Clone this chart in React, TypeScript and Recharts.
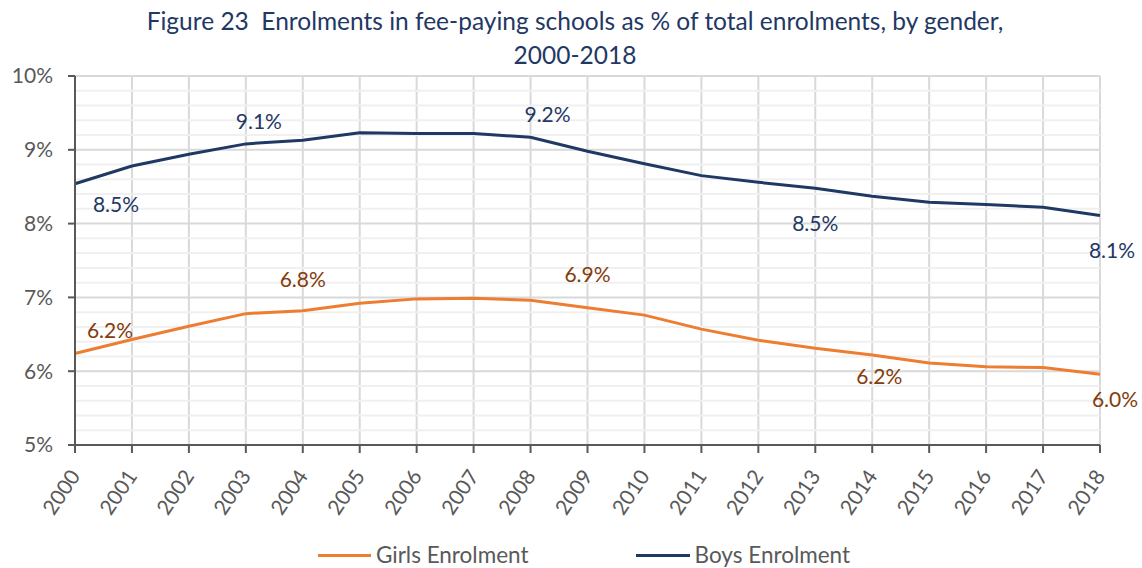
import { LineChart, Line, XAxis, YAxis, CartesianGrid, ReferenceLine, Legend, LabelList } from 'recharts';

const years = ['2000', '2001', '2002', '2003', '2004', '2005', '2006', '2007', '2008', '2009', '2010', '2011', '2012', '2013', '2014', '2015', '2016', '2017', '2018'];
const girlsEnrolment = [6.24, 6.43, 6.61, 6.78, 6.82, 6.92, 6.98, 6.99, 6.96, 6.86, 6.76, 6.57, 6.42, 6.31, 6.22, 6.11, 6.06, 6.05, 5.96];
const boysEnrolment = [8.54, 8.78, 8.94, 9.08, 9.13, 9.23, 9.22, 9.22, 9.17, 8.98, 8.81, 8.65, 8.56, 8.48, 8.37, 8.29, 8.26, 8.22, 8.11];
const yTicks = [5, 6, 7, 8, 9, 10];
const minorTicks = [5.2, 5.4, 5.6, 5.8, 6.2, 6.4, 6.6, 6.8, 7.2, 7.4, 7.6, 7.8, 8.2, 8.4, 8.6, 8.8, 9.2, 9.4, 9.6, 9.8];

// where Excel put the data labels, relative to the point (px)
const girlsLabelPos: Record<string, [number, number]> = {
  '2000': [35, -23],
  '2004': [0, -31],
  '2009': [0, -33],
  '2014': [7, 22],
  '2018': [15, 25],
};
const boysLabelPos: Record<string, [number, number]> = {
  '2000': [41, 21],
  '2003': [13, -22],
  '2008': [17, -23],
  '2013': [0, 35],
  '2018': [12, 35],
};

const data = years.map((year, i) => ({ year, girls: girlsEnrolment[i], boys: boysEnrolment[i] }));

const FONT = 'Lato, "Open Sans", sans-serif';
const NAVY = '#1F3864';
const ORANGE = '#ED7D31';
const GREY = '#595959';

const makeLabel = (pos: Record<string, [number, number]>, color: string) => (props: any) => {
  const { x, y, value, index } = props;
  const off = pos[years[index]];
  if (!off) return null;
  return (
    <text x={x + off[0]} y={y + off[1]} dy="0.35em" textAnchor="middle" fill={color} fontSize={21} fontFamily={FONT}>
      {`${Number(value).toFixed(1)}%`}
    </text>
  );
};

const YearTick = ({ x, y, payload }: any) => (
  <g transform={`translate(${x},${y + 17})`}>
    <text x={0} y={0} dy="0.35em" textAnchor="end" transform="rotate(-56)" fill={GREY} fontSize={21} fontFamily={FONT}>
      {payload.value}
    </text>
  </g>
);

const LegendBox = () => (
  <div style={{ height: 24, lineHeight: '24px', display: 'flex', justifyContent: 'center', alignItems: 'center', gap: 107, fontFamily: FONT, fontSize: 22.5, color: GREY, paddingLeft: 53 }}>
    <span style={{ display: 'flex', alignItems: 'center' }}>
      <span style={{ width: 53, height: 3, background: ORANGE, marginRight: 5 }} />
      Girls Enrolment
    </span>
    <span style={{ display: 'flex', alignItems: 'center' }}>
      <span style={{ width: 54, height: 3, background: NAVY, marginRight: 5 }} />
      Boys Enrolment
    </span>
  </div>
);

export default function App() {
  return (
    <div style={{ position: 'absolute', left: 0, top: 0, width: 1142, height: 568, background: '#fff' }}>
      <div style={{ position: 'absolute', top: 4, left: 4, width: 1142, textAlign: 'center', fontFamily: FONT, fontSize: 24.5, lineHeight: '34px', color: NAVY }}>
        Figure 23&nbsp;&nbsp;Enrolments in fee-paying schools as % of total enrolments, by gender,
        <br />
        2000-2018
      </div>
      <LineChart width={1142} height={568} data={data} margin={{ top: 76, right: 42, left: 15, bottom: 1 }}>
        {minorTicks.map((v) => (
          <ReferenceLine key={v} y={v} stroke="#F0F0F0" strokeWidth={2} />
        ))}
        <CartesianGrid stroke="#D9D9D9" strokeWidth={2} />
        <XAxis
          dataKey="year"
          interval={0}
          height={98}
          tickSize={8}
          tickMargin={2}
          stroke={GREY}
          axisLine={{ stroke: GREY, strokeWidth: 2 }}
          tickLine={{ stroke: GREY, strokeWidth: 2 }}
          tick={<YearTick />}
        />
        <YAxis
          domain={[5, 10]}
          ticks={yTicks}
          width={60}
          tickSize={7}
          tickMargin={15}
          tickFormatter={(v) => `${v}%`}
          axisLine={{ stroke: GREY, strokeWidth: 2 }}
          tickLine={{ stroke: GREY, strokeWidth: 2 }}
          tick={{ fill: GREY, fontSize: 21, fontFamily: FONT }}
        />
        <Legend verticalAlign="bottom" content={() => <LegendBox />} />
        <Line dataKey="girls" name="Girls Enrolment" stroke={ORANGE} strokeWidth={3} dot={false} isAnimationActive={false}>
          <LabelList dataKey="girls" content={makeLabel(girlsLabelPos, '#843C0C')} />
        </Line>
        <Line dataKey="boys" name="Boys Enrolment" stroke={NAVY} strokeWidth={3} dot={false} isAnimationActive={false}>
          <LabelList dataKey="boys" content={makeLabel(boysLabelPos, NAVY)} />
        </Line>
      </LineChart>
    </div>
  );
}
